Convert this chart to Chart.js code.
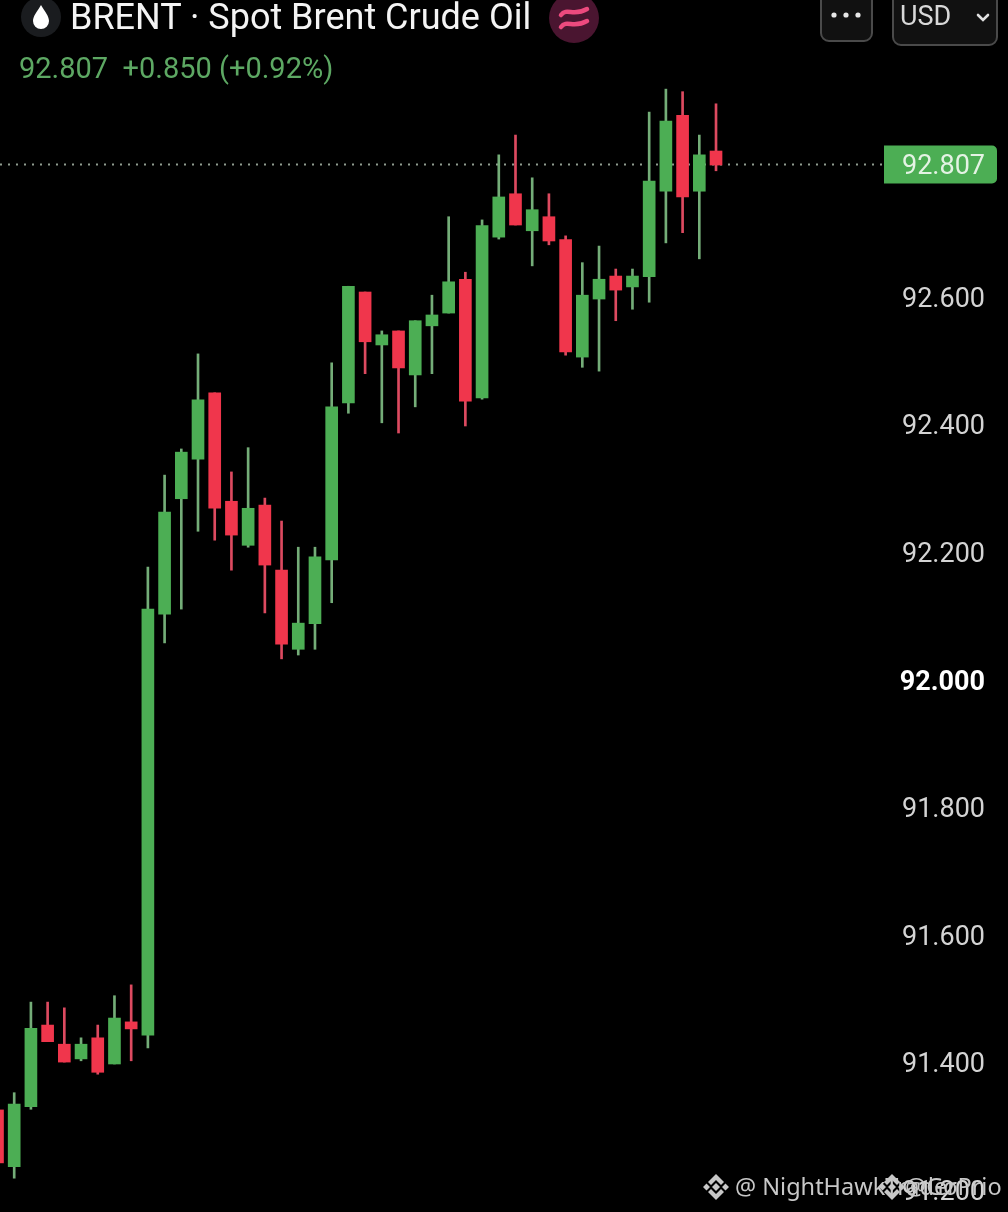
<!DOCTYPE html>
<html>
<head>
<meta charset="utf-8">
<title>BRENT</title>
<script src="https://cdn.jsdelivr.net/npm/chart.js@4/dist/chart.umd.min.js"></script>
<style>
html, body { margin: 0; padding: 0; background: #000; overflow: hidden; }
#wrap { position: relative; width: 1008px; height: 1212px; font-family: Roboto, sans-serif; overflow: hidden; }
canvas { position: absolute; left: 0; top: 0; }
.txt { position: absolute; white-space: nowrap; }
#titulo { left: 70px; top: -4px; font-size: 36px; line-height: 42px; color: #f4f4f4; }
#cambio { left: 19px; top: 51px; font-size: 29px; line-height: 34px; color: #5da863; }
#icono { position: absolute; left: 20px; top: -3px; }
#onda { position: absolute; left: 549px; top: -7px; }
.boton { position: absolute; box-sizing: border-box; background: #111; border: 2px solid #4a4a4a; border-radius: 9px; }
#puntos { left: 820px; top: -20px; width: 53px; height: 62px; }
#moneda { left: 892px; top: -20px; width: 106px; height: 66px; }
#usd { left: 900px; top: -1px; font-size: 27px; line-height: 34px; color: #d8d8d8; }
.marca { font-family: "Noto Sans", sans-serif; font-size: 23.5px; line-height: 30px; color: #c8c8c8; top: 1171px; }
</style>
</head>
<body>
<div id="wrap">
  <canvas id="grafico" width="1008" height="1212"></canvas>

  <svg id="icono" width="42" height="42" viewBox="0 0 42 42">
    <circle cx="21" cy="20" r="20" fill="#1a1c1f"/>
    <path d="M21 8 C25 15 29 19 29 24 A8 8 0 0 1 13 24 C13 19 17 15 21 8 Z" fill="#fff"/>
  </svg>
  <div class="txt" id="titulo">BRENT · Spot Brent Crude Oil</div>
  <svg id="onda" width="50" height="50" viewBox="0 0 50 50">
    <circle cx="25" cy="25" r="25" fill="#4a1530"/>
    <path d="M12 22 C18 14 24 24 38 16 M12 34 C18 26 24 36 38 28" fill="none" stroke="#ec4a7e" stroke-width="4.5" stroke-linecap="round"/>
  </svg>
  <div class="txt" id="cambio">92.807&nbsp; +0.850 (+0.92%)</div>

  <div class="boton" id="puntos"></div>
  <svg style="position:absolute;left:830px;top:9px" width="34" height="12" viewBox="0 0 34 12">
    <circle cx="4" cy="6" r="2.6" fill="#e6e6e6"/><circle cx="16" cy="6" r="2.6" fill="#e6e6e6"/><circle cx="28" cy="6" r="2.6" fill="#e6e6e6"/>
  </svg>
  <div class="boton" id="moneda"></div>
  <div class="txt" id="usd">USD</div>
  <svg style="position:absolute;left:975px;top:12px" width="16" height="12" viewBox="0 0 16 12">
    <path d="M3 3 L8 8 L13 3" fill="none" stroke="#e0e0e0" stroke-width="2.6" stroke-linecap="round"/>
  </svg>

  <svg style="position:absolute;left:702px;top:1173px" width="28" height="28" viewBox="0 0 28 28" fill="#c8c8c8">
    <path d="M14 1 L22 9 L19 12 L14 7 L9 12 L6 9 Z M14 27 L22 19 L19 16 L14 21 L9 16 L6 19 Z M1 14 L4.5 10.5 L8 14 L4.5 17.5 Z M27 14 L23.5 10.5 L20 14 L23.5 17.5 Z M14 10 L18 14 L14 18 L10 14 Z"/>
  </svg>
  <div class="txt marca" style="left:735px">@ NightHawkTrader</div>
  <svg style="position:absolute;left:878px;top:1173px" width="28" height="28" viewBox="0 0 28 28" fill="#c8c8c8">
    <path d="M14 1 L22 9 L19 12 L14 7 L9 12 L6 9 Z M14 27 L22 19 L19 16 L14 21 L9 16 L6 19 Z M1 14 L4.5 10.5 L8 14 L4.5 17.5 Z M27 14 L23.5 10.5 L20 14 L23.5 17.5 Z M14 10 L18 14 L14 18 L10 14 Z"/>
  </svg>
  <div class="txt marca" style="left:905px">@GoPrio</div>
</div>

<script>
// Velas de BRENT
const aperturas = [91.325,91.236,91.330,91.458,91.428,91.405,91.438,91.397,91.463,91.442,92.102,92.283,92.345,92.449,92.279,92.210,92.273,92.171,92.047,92.087,92.187,92.433,92.607,92.524,92.546,92.477,92.554,92.574,92.627,92.441,92.693,92.761,92.703,92.725,92.689,92.505,92.596,92.632,92.615,92.631,92.765,92.884,92.765,92.828];
const cierres = [91.242,91.334,91.453,91.432,91.400,91.428,91.384,91.469,91.452,92.110,92.262,92.356,92.438,92.268,92.226,92.268,92.179,92.055,92.088,92.192,92.427,92.616,92.529,92.540,92.488,92.562,92.571,92.623,92.436,92.711,92.756,92.712,92.736,92.687,92.513,92.602,92.627,92.610,92.632,92.781,92.875,92.756,92.822,92.806];
const maximos = [91.325,91.352,91.494,91.494,91.485,91.438,91.458,91.504,91.521,92.176,92.320,92.361,92.510,92.449,92.325,92.363,92.284,92.248,92.207,92.207,92.496,92.616,92.607,92.546,92.546,92.562,92.602,92.725,92.638,92.720,92.822,92.853,92.786,92.761,92.695,92.653,92.679,92.643,92.643,92.889,92.925,92.921,92.853,92.902];
const minimos = [91.237,91.218,91.326,91.432,91.400,91.402,91.381,91.397,91.402,91.422,92.057,92.110,92.232,92.218,92.171,92.207,92.104,92.032,92.038,92.047,92.120,92.417,92.479,92.402,92.386,92.427,92.479,92.574,92.397,92.439,92.690,92.712,92.648,92.681,92.508,92.489,92.483,92.562,92.580,92.591,92.684,92.700,92.659,92.797];
const etiquetasY = [92.6, 92.4, 92.2, 92.0, 91.8, 91.6, 91.4, 91.2];
const ultimoPrecio = 92.807;

const VERDE = '#4cae54', ROJO = '#f0364c';
const MECHA_VERDE = '#74ad78', MECHA_ROJA = '#dd4a60';

const esVerde = i => cierres[i] >= aperturas[i];
const cuerpos = aperturas.map((a, i) => ({ x: i, y: [a, cierres[i]] }));
const mechas = minimos.map((m, i) => ({ x: i, y: [m, maximos[i]] }));

// linea punteada y etiqueta del ultimo precio
const ultimoPlugin = {
    id: 'ultimo',
    beforeDatasetsDraw(chart) {
        const y = chart.scales.y.getPixelForValue(ultimoPrecio);
        const ctx = chart.ctx;
        ctx.save();
        ctx.strokeStyle = '#8f9c8f';
        ctx.lineWidth = 2;
        ctx.setLineDash([2, 6]);
        ctx.beginPath();
        ctx.moveTo(0, y);
        ctx.lineTo(884, y);
        ctx.stroke();
        ctx.restore();
    },
    afterDraw(chart) {
        const y = chart.scales.y.getPixelForValue(ultimoPrecio);
        const ctx = chart.ctx;
        ctx.save();
        ctx.fillStyle = VERDE;
        ctx.beginPath();
        ctx.roundRect(884, y - 19, 113, 38, [0, 5, 5, 0]);
        ctx.fill();
        ctx.fillStyle = '#e4f3e4';
        ctx.font = '27px Roboto';
        ctx.textAlign = 'right';
        ctx.textBaseline = 'middle';
        ctx.fillText(ultimoPrecio.toFixed(3), 985, y + 2.5);
        ctx.restore();
    }
};

new Chart(document.getElementById('grafico').getContext('2d'), {
    type: 'bar',
    data: {
        datasets: [{
            data: mechas,
            grouped: false,
            barThickness: 2,
            backgroundColor: mechas.map((m, i) => esVerde(i) ? MECHA_VERDE : MECHA_ROJA),
            order: 2
        }, {
            data: cuerpos,
            grouped: false,
            barThickness: 12,
            backgroundColor: cuerpos.map((c, i) => esVerde(i) ? VERDE : ROJO),
            order: 1
        }]
    },
    options: {
        responsive: false,
        animation: false,
        devicePixelRatio: 1,
        layout: { padding: 0 },
        plugins: { legend: { display: false }, tooltip: { enabled: false } },
        scales: {
            x: {
                type: 'linear',
                display: false,
                offset: false,
                min: 0.15,
                max: 58.2
            },
            y: {
                position: 'right',
                min: 91.165,
                max: 93.0647,
                grid: { display: false },
                border: { display: false },
                afterBuildTicks: scale => { scale.ticks = etiquetasY.map(v => ({ value: v })); },
                afterFit: scale => { scale.paddingTop = 0; scale.paddingBottom = 0; },
                ticks: {
                    mirror: true,
                    padding: 15,
                    labelOffset: 3.5,
                    color: ctx => ctx.tick.value === 92 ? '#ffffff' : '#d4d4d4',
                    font: ctx => ({ family: 'Roboto', size: 27, weight: ctx.tick && ctx.tick.value === 92 ? 'bold' : 'normal' }),
                    callback: v => v.toFixed(3)
                }
            }
        }
    },
    plugins: [ultimoPlugin]
});
</script>
</body>
</html>
